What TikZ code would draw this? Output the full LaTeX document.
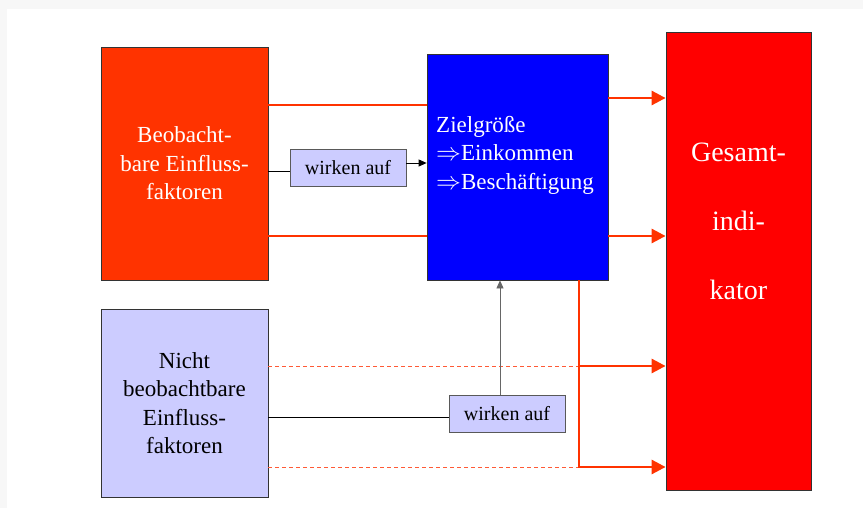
\documentclass[tikz,border=0pt]{standalone}
\usepackage{fontspec}
\setmainfont{LiberationSerif}[Extension=.ttf, UprightFont=*-Regular, BoldFont=*-Bold]
\usetikzlibrary{arrows.meta}
\definecolor{orangered}{HTML}{FF3300}
\definecolor{lavender}{HTML}{CCCCFF}
\definecolor{dashorange}{HTML}{FF5A36}
\definecolor{framegray}{HTML}{F7F7F7}
\tikzset{
	box/.style={draw=black!80, line width=0.8pt, inner sep=0pt, align=center},
	wirkbox/.style={draw=black!65, fill=lavender, line width=0.8pt, minimum width=116pt, minimum height=37pt, inner sep=0pt, font=\fontsize{20}{24}\selectfont},
	flow/.style={draw=orangered, line width=2.8pt},
	flowarrow/.style={flow, -{Triangle[length=14pt,width=14pt]}},
	link/.style={draw=black, line width=0.8pt},
	linkarrow/.style={link, -{Triangle[length=8pt,width=7pt]}},
	dashflow/.style={draw=dashorange, line width=1pt, dash pattern=on 4pt off 3pt}
}

\begin{document}
\begin{tikzpicture}[x=1pt, y=-1pt]
			%%%%% START %%%%%
			
			\useasboundingbox (0, 0) rectangle (863, 508);
			\fill[framegray] (0, 0) rectangle (863, 508);
			\fill[white] (7, 9) rectangle (863, 508);
			
			\node[box, fill=orangered, text=white, minimum width=167pt, minimum height=233pt, font=\fontsize{23}{28.5}\selectfont] (beob) at (184.5, 163.5) {Beobacht-\\bare Einfluss-\\faktoren};
			\node[box, fill=lavender, minimum width=167pt, minimum height=188pt, font=\fontsize{23}{28.5}\selectfont] (nicht) at (184.5, 403) {Nicht\\beobachtbare\\Einfluss-\\faktoren};
			
			\node[box, fill=blue, minimum width=181pt, minimum height=226pt] (ziel) at (517.5, 167) {};
			\node[inner sep=0pt, anchor=west, align=left, text=white, font=\fontsize{23}{28.5}\selectfont] (zieltext) at (436, 155) {Zielgröße\\$\Rightarrow$Einkommen\\$\Rightarrow$Beschäftigung};
			
			\node[box, fill=red, minimum width=145pt, minimum height=458pt] (gesamt) at (738.5, 261) {};
			\node[inner sep=0pt, align=center, text=white, font=\fontsize{28}{69}\selectfont] (gesamttext) at (738.5, 221) {Gesamt-\\indi-\\kator};
			
			\node[wirkbox] (wirk1) at (348, 167.5) {wirken auf};
			\node[wirkbox] (wirk2) at (507, 413.5) {wirken auf};
			
			\draw[flow] (beob.east |- 0, 105) -- (ziel.west |- 0, 105);
			\draw[flow] (beob.east |- 0, 236) -- (ziel.west |- 0, 236);
			\draw[link] (beob.east |- 0, 171) -- (wirk1.west |- 0, 171);
			\draw[linkarrow] (wirk1.east |- 0, 163) -- (ziel.west |- 0, 163);
			
			\draw[flowarrow] (ziel.east |- 0, 98) -- (gesamt.west |- 0, 98);
			\draw[flowarrow] (ziel.east |- 0, 236) -- (gesamt.west |- 0, 236);
			\draw[flowarrow] (ziel.south -| 579, 0) |- (gesamt.west |- 0, 467);
			\draw[flowarrow] (579, 366) -- (gesamt.west |- 0, 366);
			
			\draw[dashflow] (nicht.east |- 0, 366) -- (577.6, 366);
			\draw[dashflow] (nicht.east |- 0, 467) -- (577.6, 467);
			\draw[link] (nicht.east |- 0, 417) -- (wirk2.west |- 0, 417);
			\draw[linkarrow, draw=black!60] (wirk2.north -| 500, 0) -- (ziel.south -| 500, 0);
			
			%%%%% END %%%%%
\end{tikzpicture}
\end{document}
